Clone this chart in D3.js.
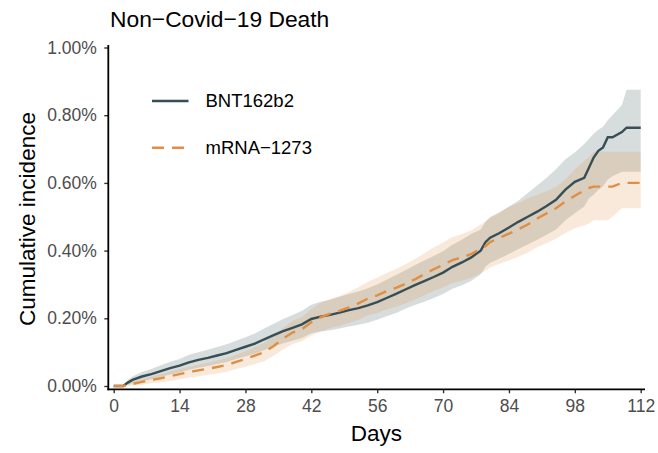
<!DOCTYPE html>
<html>
<head>
<meta charset="utf-8">
<script src="https://cdn.jsdelivr.net/npm/d3@7"></script>
<style>
  body { margin: 0; background: #fff; }
  svg { display: block; font-family: "Liberation Sans", Arial, sans-serif; }
</style>
</head>
<body>
<div id="chart"></div>
<script>
// days since vaccination (sample points)
const days = [0, 2, 3, 4, 6, 8, 10, 12, 14, 16, 18, 20, 22, 24, 26, 28, 30, 32, 34, 36, 38, 40,
  42, 44, 46, 48, 50, 52, 54, 56, 58, 60, 62, 64, 66, 68, 70, 72, 74, 76, 78, 79, 80, 82, 84,
  86, 88, 90, 92, 94, 96, 98, 100, 101, 102, 103, 104, 105, 106, 108, 109, 110, 112];

// cumulative incidence, in percent
const bnt = [0, 0, 0.01, 0.018, 0.028, 0.035, 0.044, 0.053, 0.06, 0.07, 0.077, 0.083, 0.09,
  0.097, 0.107, 0.116, 0.125, 0.138, 0.15, 0.162, 0.172, 0.182, 0.198, 0.205, 0.21, 0.217,
  0.224, 0.23, 0.238, 0.248, 0.26, 0.272, 0.285, 0.298, 0.31, 0.322, 0.335, 0.352, 0.365,
  0.38, 0.4, 0.425, 0.438, 0.452, 0.468, 0.485, 0.5, 0.515, 0.532, 0.55, 0.58, 0.603,
  0.615, 0.645, 0.675, 0.695, 0.705, 0.735, 0.735, 0.75, 0.763, 0.763, 0.763];
const bntLo = [0, 0, 0.003, 0.008, 0.015, 0.02, 0.027, 0.034, 0.04, 0.048, 0.054, 0.059, 0.065,
  0.071, 0.08, 0.088, 0.095, 0.106, 0.116, 0.126, 0.134, 0.142, 0.156, 0.161, 0.165, 0.17,
  0.176, 0.181, 0.187, 0.196, 0.206, 0.216, 0.228, 0.239, 0.249, 0.26, 0.272, 0.287, 0.298,
  0.311, 0.33, 0.352, 0.364, 0.377, 0.39, 0.405, 0.418, 0.432, 0.447, 0.462, 0.49, 0.51,
  0.53, 0.555, 0.565, 0.58, 0.59, 0.61, 0.62, 0.633, 0.633, 0.633, 0.633];
const bntHi = [0, 0, 0.018, 0.028, 0.041, 0.05, 0.061, 0.072, 0.08, 0.092, 0.1, 0.107, 0.115,
  0.123, 0.134, 0.144, 0.155, 0.17, 0.184, 0.198, 0.21, 0.222, 0.24, 0.249, 0.255, 0.264,
  0.272, 0.279, 0.289, 0.3, 0.314, 0.328, 0.342, 0.357, 0.371, 0.384, 0.398, 0.417, 0.432,
  0.449, 0.462, 0.485, 0.497, 0.512, 0.53, 0.547, 0.57, 0.592, 0.615, 0.64, 0.67, 0.69,
  0.715, 0.73, 0.745, 0.757, 0.766, 0.785, 0.8, 0.83, 0.875, 0.875, 0.875];

const mrna = [0, 0, 0.003, 0.006, 0.012, 0.018, 0.023, 0.029, 0.035, 0.041, 0.046, 0.051, 0.056,
  0.062, 0.071, 0.08, 0.09, 0.1, 0.118, 0.14, 0.158, 0.168, 0.188, 0.203, 0.214, 0.222,
  0.232, 0.244, 0.258, 0.268, 0.28, 0.29, 0.302, 0.315, 0.33, 0.345, 0.358, 0.372, 0.38,
  0.39, 0.405, 0.413, 0.425, 0.438, 0.45, 0.463, 0.477, 0.495, 0.51, 0.525, 0.545, 0.562,
  0.578, 0.585, 0.589, 0.589, 0.589, 0.589, 0.589, 0.6, 0.6, 0.6, 0.6];
const mrnaLo = [0, 0, 0, 0.001, 0.004, 0.008, 0.011, 0.015, 0.02, 0.025, 0.029, 0.033, 0.037,
  0.042, 0.05, 0.057, 0.065, 0.073, 0.089, 0.108, 0.124, 0.132, 0.149, 0.161, 0.171, 0.178,
  0.186, 0.196, 0.208, 0.216, 0.226, 0.234, 0.244, 0.255, 0.268, 0.281, 0.292, 0.304, 0.311,
  0.32, 0.333, 0.34, 0.35, 0.361, 0.371, 0.382, 0.394, 0.41, 0.422, 0.435, 0.452, 0.466,
  0.474, 0.48, 0.49, 0.49, 0.49, 0.49, 0.5, 0.525, 0.525, 0.525, 0.525];
const mrnaHi = [0, 0, 0.008, 0.012, 0.02, 0.028, 0.035, 0.043, 0.05, 0.057, 0.063, 0.069, 0.075,
  0.082, 0.092, 0.103, 0.115, 0.127, 0.147, 0.172, 0.192, 0.204, 0.227, 0.245, 0.257, 0.266,
  0.278, 0.292, 0.308, 0.32, 0.334, 0.346, 0.36, 0.375, 0.392, 0.409, 0.424, 0.44, 0.449,
  0.46, 0.477, 0.486, 0.5, 0.515, 0.529, 0.54, 0.555, 0.565, 0.575, 0.588, 0.61, 0.64,
  0.665, 0.675, 0.692, 0.692, 0.692, 0.692, 0.692, 0.692, 0.692, 0.692, 0.692];

const xTicks = [0, 14, 28, 42, 56, 70, 84, 98, 112];
const yTicks = [0, 0.2, 0.4, 0.6, 0.8, 1.0];
const groups = ["BNT162b2", "mRNA-1273"];
const colors = ["#374E55", "#DF8F44"];

const width = 658, height = 453;

const x = d3.scaleLinear().domain([0, 112]).range([113.7, 640.7]);
const y = d3.scaleLinear().domain([0, 1]).range([386, 47.5]);

const svg = d3.select("#chart").append("svg")
  .attr("width", width)
  .attr("height", height);

const series = [
  { name: groups[0], color: colors[0], v: bnt, lo: bntLo, hi: bntHi, dash: null },
  { name: groups[1], color: colors[1], v: mrna, lo: mrnaLo, hi: mrnaHi, dash: "12,8" }
];

const area = s => d3.area()
  .x((d, i) => x(days[i]))
  .y0((d, i) => y(s.lo[i]))
  .y1((d, i) => y(s.hi[i]))(days);

const line = s => d3.line()
  .x((d, i) => x(days[i]))
  .y((d, i) => y(s.v[i]))(days);

svg.append("g").selectAll("path")
  .data(series)
  .join("path")
  .attr("d", area)
  .attr("fill", d => d.color)
  .attr("fill-opacity", 0.2);

svg.append("g").selectAll("path")
  .data(series)
  .join("path")
  .attr("d", line)
  .attr("fill", "none")
  .attr("stroke", d => d.color)
  .attr("stroke-width", 2.4)
  .attr("stroke-dasharray", d => d.dash);

// axes
const xAxis = svg.append("g")
  .attr("transform", "translate(0,389.3)")
  .call(d3.axisBottom(x).tickValues(xTicks).tickSize(4).tickPadding(6.5).tickSizeOuter(0));
xAxis.select(".domain").remove();
xAxis.append("line")
  .attr("x1", 107.4).attr("x2", 645)
  .attr("stroke", "#000").attr("stroke-width", 1.8);

const yAxis = svg.append("g")
  .attr("transform", "translate(108.3,0)")
  .call(d3.axisLeft(y).tickValues(yTicks).tickSize(4).tickPadding(7.5)
    .tickFormat(d => d.toFixed(2) + "%"));
yAxis.select(".domain").remove();
yAxis.append("line")
  .attr("y1", 45).attr("y2", 390.2)
  .attr("stroke", "#000").attr("stroke-width", 1.8);

svg.selectAll(".tick line").attr("stroke", "#333").attr("stroke-width", 1.4);
svg.selectAll(".tick text")
  .attr("fill", "#4D4D4D")
  .attr("font-size", 17.5)
  .attr("font-family", "Liberation Sans, Arial, sans-serif");

// titles
svg.append("text")
  .attr("x", 110).attr("y", 26.5)
  .attr("font-size", 22.8)
  .attr("fill", "#000")
  .text("Non\u2212Covid\u221219 Death");

svg.append("text")
  .attr("x", 376.5).attr("y", 440.5)
  .attr("text-anchor", "middle")
  .attr("font-size", 22.5)
  .text("Days");

svg.append("text")
  .attr("transform", "translate(34.5,219) rotate(-90)")
  .attr("text-anchor", "middle")
  .attr("font-size", 22.5)
  .text("Cumulative incidence");

// legend
const legend = svg.append("g").selectAll("g")
  .data(series)
  .join("g")
  .attr("transform", (d, i) => `translate(152,${101 + i * 46.7})`);

legend.append("line")
  .attr("x1", 0).attr("x2", 36.5)
  .attr("stroke", d => d.color)
  .attr("stroke-width", 2.5)
  .attr("stroke-dasharray", d => d.dash);

legend.append("text")
  .attr("x", 53.5).attr("dy", "0.35em")
  .attr("font-size", 18.5)
  .text(d => d.name.replace("-", "\u2212"));
</script>
</body>
</html>
